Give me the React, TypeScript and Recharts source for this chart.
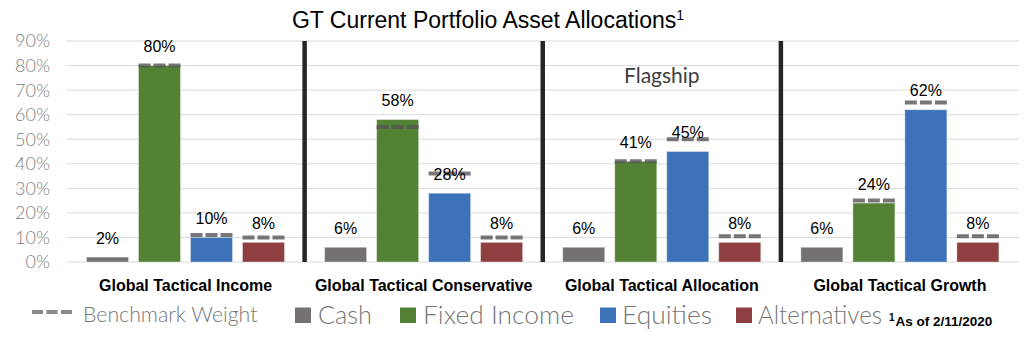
import React from 'react';
import {
  BarChart,
  Bar,
  XAxis,
  YAxis,
  CartesianGrid,
  ReferenceLine,
  ReferenceDot,
  LabelList,
} from 'recharts';

// ---------- data ----------
const categories = [
  'Global Tactical Income',
  'Global Tactical Conservative',
  'Global Tactical Allocation',
  'Global Tactical Growth',
];
const cash = [2, 6, 6, 6];
const fixedIncome = [80, 58, 41, 24];
const equities = [10, 28, 45, 62];
const alternatives = [8, 8, 8, 8];

const benchFixedIncome = [80, 55, 41, 25];
const benchEquities = [11, 36, 50, 65];
const benchAlternatives = [10, 10, 10.5, 10.5];

const yTicks = [0, 10, 20, 30, 40, 50, 60, 70, 80, 90];
// separators drawn at the end of these categories
const separatorAfter = [categories[0], categories[1], categories[2]];

const titleText = 'GT Current Portfolio Asset Allocations';
const titleSup = '1';
const benchmarkLabel = 'Benchmark Weight';
const seriesNames = ['Cash', 'Fixed Income', 'Equities', 'Alternatives'];
const footnoteSup = '1';
const footnoteText = 'As of 2/11/2020';
const flagshipLabel = 'Flagship';
const flagshipCategory = categories[2];
const flagshipLevel = 76;

// ---------- styles ----------
const COLORS = {
  cash: '#767171',
  fixedIncome: '#548235',
  equities: '#3c72b7',
  alternatives: '#8f3f3f',
};
const seriesColors = [COLORS.cash, COLORS.fixedIncome, COLORS.equities, COLORS.alternatives];

const data = categories.map((name, i) => ({
  name,
  cash: cash[i],
  fixedIncome: fixedIncome[i],
  equities: equities[i],
  alternatives: alternatives[i],
  fixedIncomeB: benchFixedIncome[i],
  equitiesB: benchEquities[i],
  alternativesB: benchAlternatives[i],
}));

const makeShape = (fill: string, dataKey: string, benchKey?: string) => (props: any) => {
  const { x, y, width, height, payload } = props;
  const value = payload ? payload[dataKey] : 0;
  const bench = benchKey && payload ? payload[benchKey] : null;
  let dash = null;
  if (bench != null && value > 0 && height > 0) {
    const by = y + height - (bench * height) / value;
    dash = (
      <line
        x1={x}
        x2={x + width}
        y1={by}
        y2={by}
        stroke="#555555"
        strokeOpacity={0.8}
        strokeWidth={4}
        strokeDasharray="12 3"
      />
    );
  }
  return (
    <g>
      <rect
        x={x}
        y={y}
        width={width}
        height={height}
        fill={fill}
        stroke="rgba(255,255,255,0.35)"
        strokeWidth={1}
      />
      {dash}
    </g>
  );
};

const labelProps = {
  position: 'top' as const,
  offset: 13.5,
  fill: '#000',
  fontSize: 16,
  fontFamily: 'Liberation Sans, Arial, sans-serif',
  formatter: (v: any) => `${v}%`,
};

const legendLayout = {
  icon: 32,
  benchText: 83,
  squares: [295, 400, 600, 736],
  texts: [318, 423, 622, 758],
  textWidths: [54, 151, 90, 124],
  footnote: 889,
};

export default function App() {
  return (
    <div
      style={{
        position: 'absolute',
        left: 0,
        top: 0,
        width: 1034,
        height: 340,
        background: '#fff',
        overflow: 'hidden',
      }}
    >
      <BarChart
        width={1034}
        height={340}
        data={data}
        margin={{ top: 41, right: 15, bottom: 48, left: 6.5 }}
        barSize={42}
        barGap={10}
      >
        <CartesianGrid vertical={false} stroke="#d9d9d9" strokeWidth={1} />
        <XAxis
          dataKey="name"
          axisLine={false}
          tickLine={false}
          tickSize={0}
          tickMargin={17.6}
          interval={0}
          height={30}
          tick={{
            fill: '#000',
            fontSize: 16,
            fontWeight: 'bold',
            fontFamily: 'Liberation Sans, Arial, sans-serif',
          }}
        />
        <YAxis
          domain={[0, 90]}
          ticks={yTicks}
          interval={0}
          width={60}
          axisLine={false}
          tickLine={false}
          tickSize={0}
          tickMargin={16.5}
          tickFormatter={(v: number) => `${v}%`}
          tick={{ fill: '#808080', fontSize: 18, fontFamily: 'Lato, sans-serif', fontWeight: 300 }}
        />
        <Bar dataKey="cash" isAnimationActive={false} shape={makeShape(COLORS.cash, 'cash')}>
          <LabelList dataKey="cash" {...labelProps} />
        </Bar>
        <Bar
          dataKey="fixedIncome"
          isAnimationActive={false}
          shape={makeShape(COLORS.fixedIncome, 'fixedIncome', 'fixedIncomeB')}
        >
          <LabelList dataKey="fixedIncome" {...labelProps} />
        </Bar>
        <Bar
          dataKey="equities"
          isAnimationActive={false}
          shape={makeShape(COLORS.equities, 'equities', 'equitiesB')}
        >
          <LabelList dataKey="equities" {...labelProps} />
        </Bar>
        <Bar
          dataKey="alternatives"
          isAnimationActive={false}
          shape={makeShape(COLORS.alternatives, 'alternatives', 'alternativesB')}
        >
          <LabelList dataKey="alternatives" {...labelProps} />
        </Bar>
        {separatorAfter.map((c) => (
          <ReferenceLine
            key={c}
            x={c}
            position="end"
            stroke="#262626"
            strokeWidth={4.5}
          />
        ))}
        <ReferenceDot
          x={flagshipCategory}
          y={flagshipLevel}
          r={0}
          fill="none"
          stroke="none"
          label={{
            value: flagshipLabel,
            position: 'center',
            fill: '#404040',
            fontSize: 21,
            fontFamily: 'Lato, sans-serif',
          }}
        />
      </BarChart>

      <svg
        width={1034}
        height={340}
        style={{ position: 'absolute', left: 0, top: 0, pointerEvents: 'none' }}
      >
        <text
          x={488}
          y={28}
          textAnchor="middle"
          fontFamily="Liberation Sans, Arial, sans-serif"
          fontSize={23}
          fill="#000"
        >
          {titleText}
          <tspan fontSize={14} dy={-8}>
            {titleSup}
          </tspan>
        </text>

        <line
          x1={legendLayout.icon}
          x2={legendLayout.icon + 40}
          y1={312}
          y2={312}
          stroke="#8a8a8a"
          strokeWidth={4}
          strokeDasharray="11 3.5"
        />
        <text
          x={legendLayout.benchText}
          y={322}
          fontFamily="Lato, sans-serif"
          fontWeight={300}
          fontSize={21.3}
          fill="#777777"
        >
          {benchmarkLabel}
        </text>
        {seriesNames.map((n, i) => (
          <g key={n}>
            <rect
              x={legendLayout.squares[i]}
              y={307.5}
              width={16}
              height={15.5}
              fill={seriesColors[i]}
            />
            <text
              x={legendLayout.texts[i]}
              y={324}
              fontFamily="Lato, sans-serif"
              fontWeight={300}
              fontSize={25.5}
              fill="#777777"
              textLength={legendLayout.textWidths[i]}
              lengthAdjust="spacingAndGlyphs"
            >
              {n}
            </text>
          </g>
        ))}
        <text
          x={legendLayout.footnote}
          y={326}
          fontFamily="Liberation Sans, Arial, sans-serif"
          fontWeight="bold"
          fontSize={13.5}
          fill="#000"
        >
          <tspan fontSize={10} dy={-5}>
            {footnoteSup}
          </tspan>
          <tspan dy={5} dx={1}>
            {footnoteText}
          </tspan>
        </text>
      </svg>
    </div>
  );
}
